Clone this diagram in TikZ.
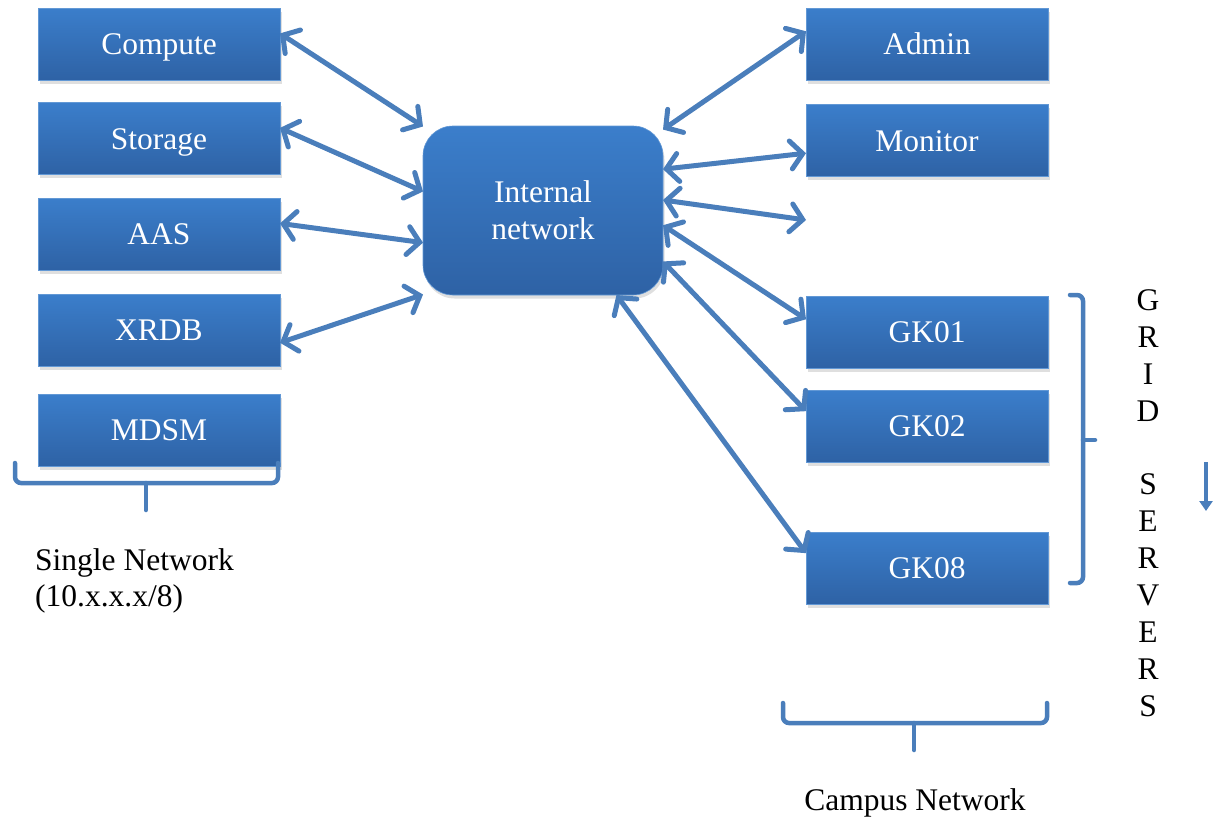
\documentclass[tikz,border=0pt]{standalone}
\usepackage{fontspec}
\setmainfont{Liberation Serif}
\usetikzlibrary{arrows.meta,shadows}
\definecolor{linkblue}{RGB}{74,126,187}
\definecolor{boxtop}{RGB}{59,126,203}
\definecolor{boxbot}{RGB}{46,98,165}
\tikzset{
  unit/.style={rectangle, minimum width=242pt, minimum height=72pt, inner sep=0pt, outer sep=0pt,
    top color=boxtop, bottom color=boxbot, draw=boxtop!80!white, line width=0.6pt,
    text=white, font=\fontsize{31.5}{37}\selectfont, text height=21pt, text depth=0pt,
    drop shadow={opacity=0.25, shadow xshift=1.5pt, shadow yshift=-3.5pt}},
  hub/.style={unit, minimum width=240pt, minimum height=169pt, rounded corners=30pt, align=center,
    text height=, text depth=},
  link/.style={draw=linkblue, line width=5pt, line cap=round, line join=round,
    {Straight Barb[length=12pt,width=28pt,line cap=round]}-{Straight Barb[length=12pt,width=28pt,line cap=round]}},
  bracket/.style={draw=linkblue, line width=4.5pt, line cap=round, rounded corners=6pt},
  caption/.style={inner sep=0pt, text=black, font=\fontsize{31.5}{36}\selectfont}
}
\begin{document}
\begin{tikzpicture}[x=1pt,y=-1pt]
\useasboundingbox (0,0) rectangle (1215,823);

% left column
\node[unit] (compute) at (159,44)    {Compute};
\node[unit] (storage) at (159,138.5) {Storage};
\node[unit] (aas)     at (159,234)   {AAS};
\node[unit] (xrdb)    at (159,330)   {XRDB};
\node[unit] (mdsm)    at (159,430)   {MDSM};

% central switch
\node[hub] (inet) at (543,210.5) {\raisebox{-1.5pt}{Internal}\\\raisebox{-1.5pt}{network}};

% right column
\node[unit] (admin)   at (927,44)    {Admin};
\node[unit] (monitor) at (927,140.5) {Monitor};
\node[unit] (gk01)    at (927,332)   {GK01};
\node[unit] (gk02)    at (927,426)   {GK02};
\node[unit] (gk08)    at (927,568)   {GK08};
\coordinate (spare) at (806,220);

% links to the internal network
\draw[link] (compute.5.7) -- (inet.145);
\draw[link] (storage.5.4) -- (inet.171.8);
\draw[link] (aas.5.2)     -- (inet.195);
\draw[link] (xrdb.-6.1)   -- (inet.215);
\draw[link] (inet.34.6)   -- (admin.174.3);
\draw[link] (inet.19.4)   -- (monitor.186.4);
\draw[link] (inet.5)      -- (spare);
\draw[link] (inet.-7.3)   -- (gk01.174.3);
\draw[link] (inet.-23)    -- (gk02.173.9);
\draw[link] (inet.-49.1)  -- (gk08.173.4);

% braces
\draw[bracket] (15,463) -- (15,483) -- (278,483) -- (278,463);
\draw[bracket] (146,483) -- (146,510);
\draw[bracket] (783,703) -- (783,723) -- (1047,723) -- (1047,703);
\draw[bracket] (914,723) -- (914,750);
\draw[bracket] (1070,295) -- (1083,295) -- (1083,583) -- (1070,583);
\draw[bracket] (1083,440) -- (1095,440);

% down marker
\draw[draw=linkblue, line width=4pt, -{Triangle[length=10pt,width=13pt]}] (1206,462) -- (1206,511);

% captions
\node[caption, anchor=north west, align=left] (single) at (35,548) {Single Network\\(10.x.x.x/8)};
\node[caption, anchor=base] (campus) at (915,810) {Campus Network};
\node[inner sep=0pt, align=center, font=\fontsize{31.5}{36.9}\selectfont] (grid) at (1148,503)
  {G\\R\\I\\D\\[0pt]\strut\\S\\E\\R\\V\\E\\R\\S};
\end{tikzpicture}
\end{document}
